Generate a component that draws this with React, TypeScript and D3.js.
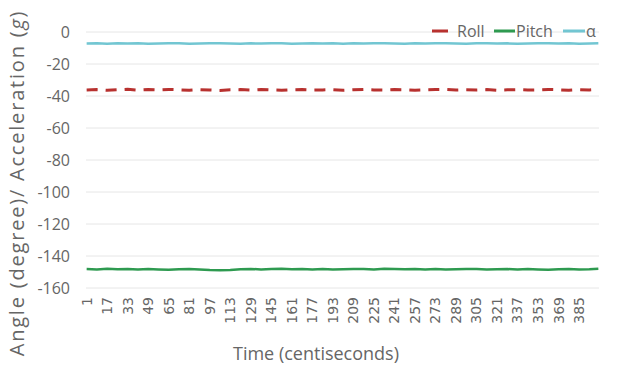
import React, { useRef, useEffect } from "react";
import * as d3 from "d3";

// sample times (centiseconds), one every 8 samples
const times = [1, 9, 17, 25, 33, 41, 49, 57, 65, 73, 81, 89, 97, 105, 113, 121, 129, 137, 145, 153, 161, 169, 177, 185, 193, 201, 209, 217, 225, 233, 241, 249, 257, 265, 273, 281, 289, 297, 305, 313, 321, 329, 337, 345, 353, 361, 369, 377, 385, 393, 400];

const roll = [-36.2, -36.0, -36.4, -36.1, -35.8, -36.3, -36.0, -36.2, -35.9, -36.1, -36.4, -36.0, -36.2, -36.5, -36.1, -36.0, -36.3, -35.9, -36.2, -36.4, -36.1, -36.0, -36.3, -36.2, -36.0, -36.4, -36.1, -35.9, -36.2, -36.3, -36.0, -36.1, -36.4, -36.2, -36.0, -35.9, -36.3, -36.1, -36.2, -36.0, -36.4, -36.1, -36.0, -36.3, -36.2, -35.9, -36.1, -36.4, -36.0, -36.2, -35.8];
const pitch = [-148.2, -148.4, -148.0, -148.3, -148.1, -148.5, -148.2, -148.4, -148.6, -148.3, -148.1, -148.5, -148.8, -148.9, -148.7, -148.3, -148.1, -148.4, -148.2, -148.0, -148.3, -148.1, -148.4, -148.2, -148.5, -148.3, -148.1, -148.2, -148.4, -148.0, -148.2, -148.3, -148.1, -148.4, -148.2, -148.5, -148.3, -148.1, -148.2, -148.4, -148.3, -148.1, -148.5, -148.2, -148.4, -148.6, -148.3, -148.2, -148.5, -148.3, -148.0];
const alpha = [-7.2, -7.1, -7.3, -7.0, -7.2, -7.1, -7.3, -7.2, -7.0, -7.1, -7.3, -7.2, -7.1, -7.0, -7.2, -7.3, -7.1, -7.2, -7.0, -7.1, -7.3, -7.2, -7.1, -7.2, -7.0, -7.3, -7.1, -7.2, -7.1, -7.0, -7.2, -7.3, -7.1, -7.2, -7.0, -7.1, -7.2, -7.3, -7.1, -7.0, -7.2, -7.1, -7.3, -7.2, -7.1, -7.0, -7.2, -7.1, -7.3, -7.2, -7.1];

const xTickLabels = ["1", "17", "33", "49", "65", "81", "97", "113", "129", "145", "161", "177", "193", "209", "225", "241", "257", "273", "289", "305", "321", "337", "353", "369", "385"];
const yTicks = [0, -20, -40, -60, -80, -100, -120, -140, -160];

const seriesNames = ["Roll", "Pitch", "α"];
const seriesColors = ["#b8312f", "#2e9a50", "#72c6d2"];

const App = () => {
  const svgRef = useRef<SVGSVGElement>(null);

  useEffect(() => {
    const width = 635;
    const height = 365;
    const margin = { top: 32, right: 36, bottom: 77, left: 86 };
    const svg = d3.select(svgRef.current);
    svg.selectAll("*").remove();

    const nCats = 400;
    const x = d3
      .scaleLinear()
      .domain([0.5, nCats + 0.5])
      .range([margin.left, width - margin.right]);
    const y = d3
      .scaleLinear()
      .domain([-160, 0])
      .range([height - margin.bottom, margin.top]);

    const font = "'Open Sans', 'DejaVu Sans', sans-serif";
    const grey = "#666";

    // gridlines
    svg
      .append("g")
      .selectAll("line")
      .data(yTicks)
      .join("line")
      .attr("x1", x.range()[0])
      .attr("x2", x.range()[1])
      .attr("y1", (d) => y(d))
      .attr("y2", (d) => y(d))
      .attr("stroke", "#e6e6e6")
      .attr("stroke-width", 1);

    // y tick labels
    svg
      .append("g")
      .selectAll("text")
      .data(yTicks)
      .join("text")
      .attr("x", 70)
      .attr("y", (d) => y(d))
      .attr("dy", "0.35em")
      .attr("text-anchor", "end")
      .attr("font-family", font)
      .attr("font-size", 16)
      .attr("fill", grey)
      .text((d) => d);

    // x tick labels, rotated
    svg
      .append("g")
      .selectAll("text")
      .data(xTickLabels)
      .join("text")
      .attr("transform", (d) => `translate(${x(+d)},${height - margin.bottom + 9}) rotate(-90)`)
      .attr("dy", "0.35em")
      .attr("text-anchor", "end")
      .attr("font-family", "'DejaVu Sans', sans-serif")
      .attr("font-size", 14)
      .attr("fill", grey)
      .text((d) => d);

    const line = d3
      .line<number>()
      .x((d, i) => x(times[i]))
      .y((d) => y(d));

    const data = [roll, pitch, alpha];
    data.forEach((s, k) => {
      svg
        .append("path")
        .datum(s)
        .attr("fill", "none")
        .attr("stroke", seriesColors[k])
        .attr("stroke-width", k === 0 ? 3 : 2.5)
        .attr("stroke-dasharray", k === 0 ? "11,8" : null)
        .attr("d", line);
    });

    // legend
    const legend = svg.append("g").attr("font-family", font).attr("font-size", 16).attr("fill", grey);
    const legendX = [432, 494, 563];
    const legendW = [16, 21, 22];
    seriesNames.forEach((n, k) => {
      legend
        .append("line")
        .attr("x1", legendX[k])
        .attr("x2", legendX[k] + legendW[k])
        .attr("y1", 31)
        .attr("y2", 31)
        .attr("stroke", seriesColors[k])
        .attr("stroke-width", 3);
      legend
        .append("text")
        .attr("x", legendX[k] + legendW[k] + (k === 0 ? 9 : 1))
        .attr("y", 31)
        .attr("dy", "0.35em")
        .text(n);
    });

    // axis titles
    const yt = svg
      .append("text")
      .attr("transform", `translate(24,183) rotate(-90)`)
      .attr("text-anchor", "middle")
      .attr("font-family", font)
      .attr("font-size", 20)
      .attr("letter-spacing", 1.8)
      .attr("fill", grey);
    yt.append("tspan").text("Angle (degree)/ Acceleration (");
    yt.append("tspan").attr("font-style", "italic").text("g");
    yt.append("tspan").text(")");

    svg
      .append("text")
      .attr("x", 316)
      .attr("y", 360)
      .attr("text-anchor", "middle")
      .attr("font-family", font)
      .attr("font-size", 18)
      .attr("fill", grey)
      .text("Time (centiseconds)");
  }, []);

  return (
    <svg
      ref={svgRef}
      width={635}
      height={365}
      style={{ position: "absolute", left: 0, top: 0, background: "#fff" }}
    />
  );
};

export default App;
